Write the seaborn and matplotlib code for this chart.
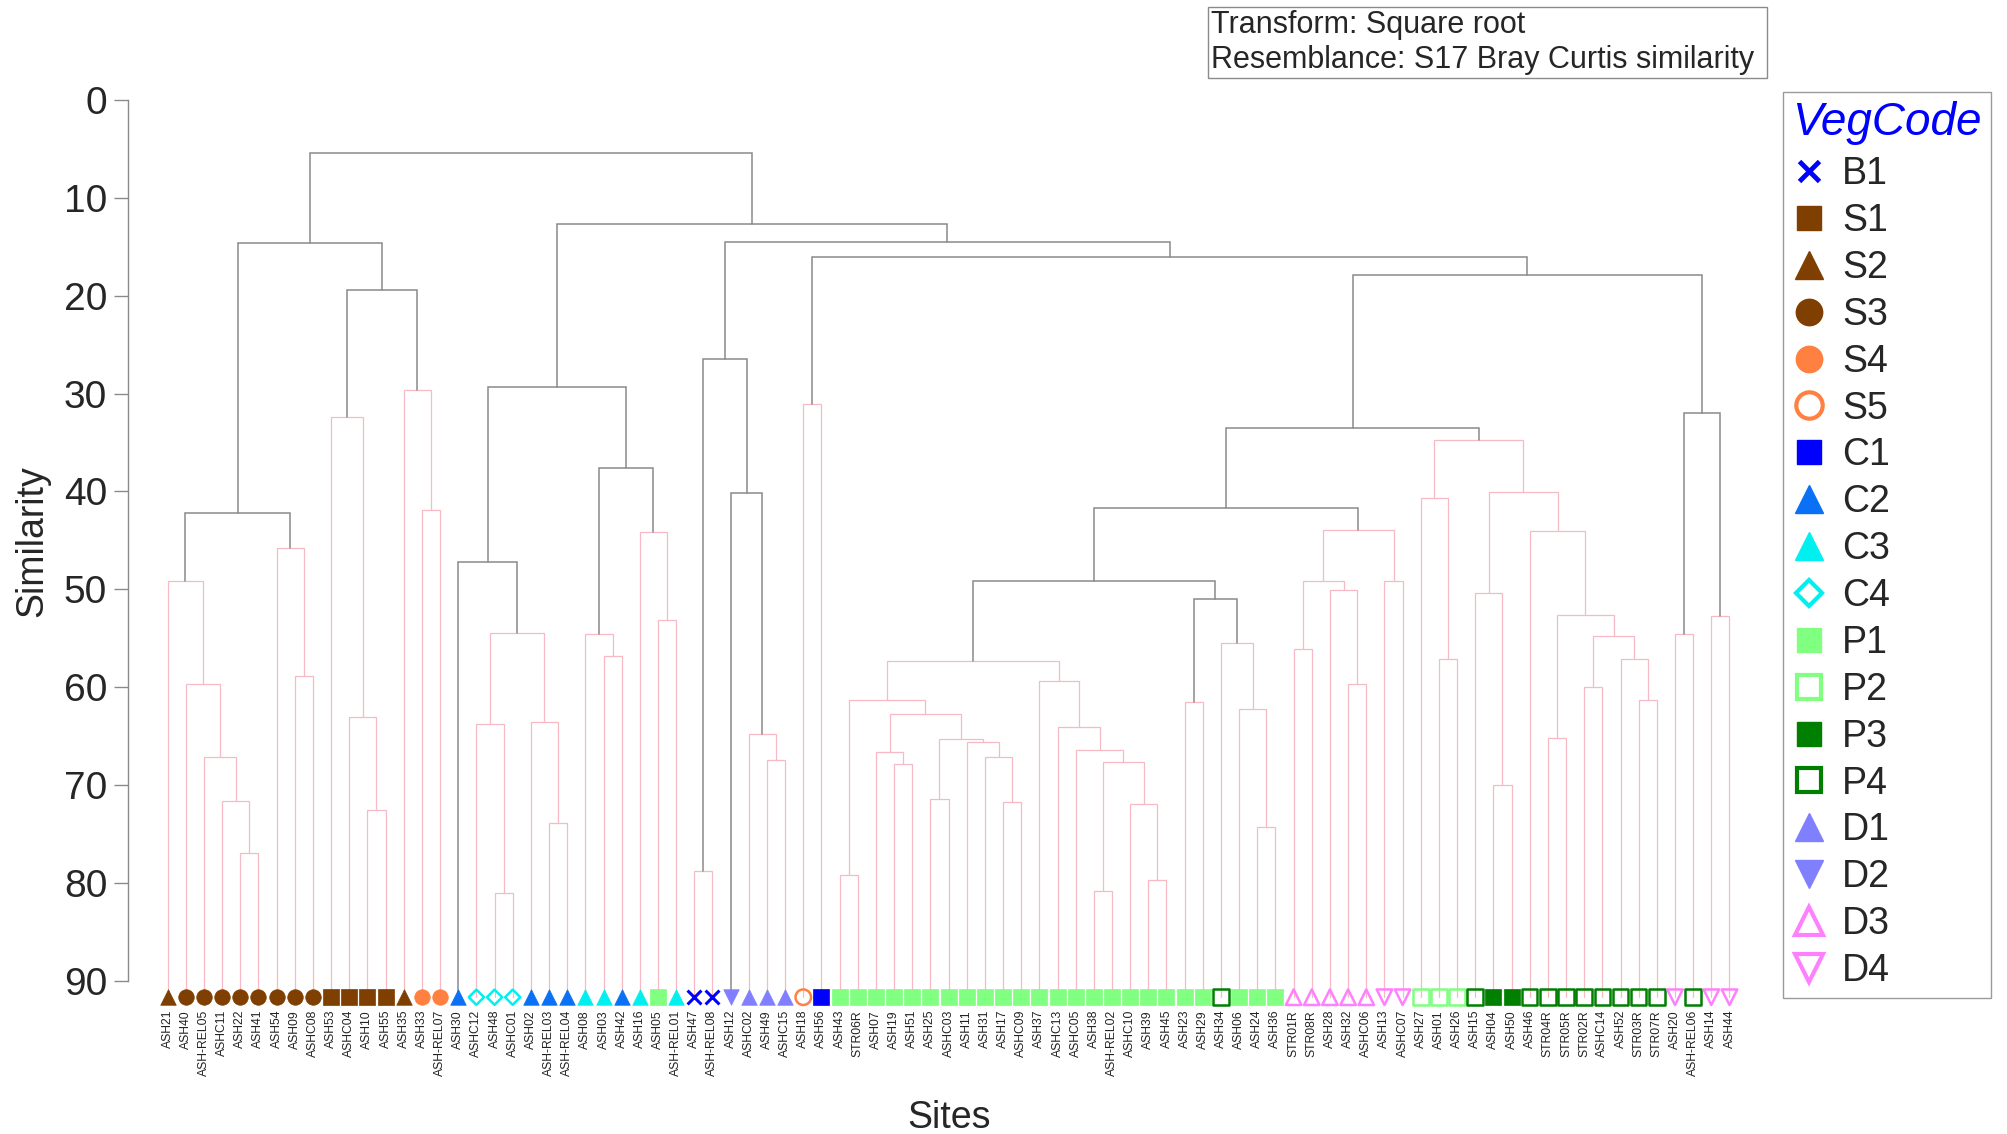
import numpy as np
import pandas as pd
import matplotlib
matplotlib.use("Agg")
import matplotlib.pyplot as plt
import seaborn as sns
from matplotlib.lines import Line2D

# ---------------- data ----------------
sites = ["ASH21", "ASH40", "ASH-REL05", "ASHC11", "ASH22", "ASH41", "ASH54", "ASH09", "ASHC08",
         "ASH53", "ASHC04", "ASH10", "ASH55", "ASH35", "ASH33", "ASH-REL07", "ASH30", "ASHC12",
         "ASH48", "ASHC01", "ASH02", "ASH-REL03", "ASH-REL04", "ASH08", "ASH03", "ASH42", "ASH16",
         "ASH05", "ASH-REL01", "ASH47", "ASH-REL08", "ASH12", "ASHC02", "ASH49", "ASHC15", "ASH18",
         "ASH56", "ASH43", "STR06R", "ASH07", "ASH19", "ASH51", "ASH25", "ASHC03", "ASH11", "ASH31",
         "ASH17", "ASHC09", "ASH37", "ASHC13", "ASHC05", "ASH38", "ASH-REL02", "ASHC10", "ASH39",
         "ASH45", "ASH23", "ASH29", "ASH34", "ASH06", "ASH24", "ASH36", "STR01R", "STR08R", "ASH28",
         "ASH32", "ASHC06", "ASH13", "ASHC07", "ASH27", "ASH01", "ASH26", "ASH15", "ASH04", "ASH50",
         "ASH46", "STR04R", "STR05R", "STR02R", "ASHC14", "ASH52", "STR03R", "STR07R", "ASH20",
         "ASH-REL06", "ASH14", "ASH44"]

veg_codes = ["S2", "S3", "S3", "S3", "S3", "S3", "S3", "S3", "S3",
             "S1", "S1", "S1", "S1", "S2", "S4", "S4", "C2", "C4",
             "C4", "C4", "C2", "C2", "C2", "C3", "C3", "C2", "C3",
             "P1", "C3", "B1", "B1", "D2", "D1", "D1", "D1", "S5",
             "C1", "P1", "P1", "P1", "P1", "P1", "P1", "P1", "P1", "P1",
             "P1", "P1", "P1", "P1", "P1", "P1", "P1", "P1", "P1",
             "P1", "P1", "P1", "P4", "P1", "P1", "P1", "D3", "D3", "D3",
             "D3", "D3", "D4", "D4", "P2", "P2", "P2", "P4", "P3", "P3",
             "P4", "P4", "P4", "P4", "P4", "P4", "P4", "P4", "D4",
             "P4", "D4", "D4"]

# merges: children are leaf numbers (1-based, in the order above) or earlier merges "mK"
merge_pairs = [
    (5, 6), (4, "m0"), (3, "m1"), (2, "m2"), (1, "m3"), (8, 9), (7, "m5"), ("m4", "m6"),
    (12, 13), (11, "m8"), (10, "m9"), (15, 16), (14, "m11"), ("m10", "m12"), ("m7", "m13"),
    (19, 20), (18, "m15"), (22, 23), (21, "m17"), ("m16", "m18"), (17, "m19"),
    (25, 26), (24, "m21"), (28, 29), (27, "m23"), ("m22", "m24"), ("m20", "m25"),
    (30, 31), (34, 35), (33, "m28"), (32, "m29"), ("m27", "m30"), (36, 37),
    (38, 39), (41, 42), (40, "m34"), (43, 44), (47, 48), (46, "m37"), (45, "m38"),
    ("m36", "m39"), ("m35", "m40"), ("m33", "m41"), (52, 53), (55, 56), (54, "m44"),
    ("m43", "m45"), (51, "m46"), (50, "m47"), (49, "m48"), ("m42", "m49"),
    (57, 58), (61, 62), (60, "m52"), (59, "m53"), ("m51", "m54"), ("m50", "m55"),
    (63, 64), (66, 67), (65, "m58"), ("m57", "m59"), (68, 69), ("m60", "m61"), ("m56", "m62"),
    (71, 72), (70, "m64"), (74, 75), (73, "m66"), (77, 78), (79, 80), (82, 83), (81, "m70"),
    ("m69", "m71"), ("m68", "m72"), (76, "m73"), ("m67", "m74"), ("m65", "m75"), ("m63", "m76"),
    (84, 85), (86, 87), ("m78", "m79"), ("m77", "m80"), ("m32", "m81"), ("m31", "m82"),
    ("m26", "m83"), ("m14", "m84"),
]

merge_similarity = [
    76.96, 71.6, 67.1, 59.7, 49.2, 58.9, 45.8, 42.2,
    72.6, 63.1, 32.4, 41.9, 29.6, 19.4, 14.6,
    81.0, 63.8, 73.9, 63.6, 54.5, 47.2,
    56.8, 54.6, 53.1, 44.2, 37.6, 29.3,
    78.8, 67.5, 64.8, 40.2, 26.5, 31.1,
    79.25, 67.9, 66.6, 71.4, 71.7, 67.15, 65.6,
    65.3, 62.8, 61.3, 80.8, 79.7, 72.0,
    67.7, 66.4, 64.1, 59.4, 57.3,
    61.5, 74.3, 62.2, 55.5, 51.05, 49.2,
    56.1, 59.7, 50.1, 49.15, 49.15, 43.9, 41.7,
    57.1, 40.7, 70.0, 50.4, 65.2, 60.0, 61.3, 57.1,
    54.8, 52.6, 44.0, 40.05, 34.7, 33.5,
    54.6, 52.7, 32.0, 17.9, 16.0, 14.5,
    12.65, 5.4,
]

# 1 = significant split (grey), 0 = within a SIMPROF group (pink)
merge_significant = [
    0, 0, 0, 0, 0, 0, 0, 1,
    0, 0, 0, 0, 0, 1, 1,
    0, 0, 0, 0, 0, 1,
    0, 0, 0, 0, 1, 1,
    0, 0, 0, 1, 1, 0,
    0, 0, 0, 0, 0, 0, 0,
    0, 0, 0, 0, 0, 0,
    0, 0, 0, 0, 0,
    0, 0, 0, 0, 1, 1,
    0, 0, 0, 0, 0, 0, 1,
    0, 0, 0, 0, 0, 0, 0, 0,
    0, 0, 0, 0, 0, 1,
    0, 0, 1, 1, 1, 1,
    1, 1,
]

legend_codes = ["B1", "S1", "S2", "S3", "S4", "S5", "C1", "C2", "C3", "C4",
                "P1", "P2", "P3", "P4", "D1", "D2", "D3", "D4"]
code_colors = {"B1": "#0000ff", "S1": "#7f3f00", "S2": "#7f3f00", "S3": "#7f3f00",
               "S4": "#ff8040", "S5": "#ff8040", "C1": "#0000ff", "C2": "#0a70f5",
               "C3": "#00f0f0", "C4": "#00f0f0", "P1": "#80ff80", "P2": "#80ff80",
               "P3": "#007f00", "P4": "#007f00", "D1": "#8080ff", "D2": "#8080ff",
               "D3": "#ff80ff", "D4": "#ff80ff"}
code_markers = {"B1": "x", "S1": "s", "S2": "^", "S3": "o", "S4": "o", "S5": "o",
                "C1": "s", "C2": "^", "C3": "^", "C4": "D", "P1": "s", "P2": "s",
                "P3": "s", "P4": "s", "D1": "^", "D2": "v", "D3": "^", "D4": "v"}
code_open = {"S5", "C4", "P2", "P4", "D3", "D4"}

# ---------------- style ----------------
sns.set_theme(style="white")
plt.rcParams["font.family"] = ["Liberation Sans", "DejaVu Sans"]

GREY = "#8a8a8a"
PINK = "#f7b9c4"
LEAF_LEVEL = 91.7

fig = plt.figure(figsize=(20.07, 11.34), dpi=100)
ax = fig.add_axes([0.0638, 0.1094, 0.8115, 0.8024])

# ---------------- dendrogram ----------------
pos, hgt = {}, {}


def child_xy(c):
    if isinstance(c, str):
        return pos[c], hgt[c]
    return c - 1, LEAF_LEVEL


for k, ((a, b), h, sig) in enumerate(zip(merge_pairs, merge_similarity, merge_significant)):
    xa, ya = child_xy(a)
    xb, yb = child_xy(b)
    col = GREY if sig else PINK
    lw = 1.1 if sig else 0.9
    ax.plot([xa, xa, xb, xb], [ya, h, h, yb], color=col, lw=lw, solid_joinstyle="miter",
            zorder=2 if sig else 1)
    pos[f"m{k}"] = (xa + xb) / 2
    hgt[f"m{k}"] = h

# ---------------- leaf markers ----------------
leaves = pd.DataFrame({"x": np.arange(len(sites)), "y": LEAF_LEVEL,
                       "site": sites, "code": veg_codes})
for code in legend_codes:
    sub = leaves[leaves["code"] == code]
    if sub.empty:
        continue
    col = code_colors[code]
    mk = code_markers[code]
    size = 125 if mk != "D" else 60
    if code in code_open:
        sns.scatterplot(data=sub, x="x", y="y", ax=ax, marker=mk, s=size,
                        facecolor="none", edgecolor=col, linewidth=1.8, zorder=4, legend=False)
    elif mk == "x":
        sns.scatterplot(data=sub, x="x", y="y", ax=ax, marker=mk, s=size * 0.8,
                        color=col, linewidth=2.2, zorder=4, legend=False)
    else:
        sns.scatterplot(data=sub, x="x", y="y", ax=ax, marker=mk, s=size,
                        color=col, edgecolor=col, linewidth=0.5, zorder=4, legend=False)

# ---------------- axes ----------------
ax.set_xlim(-2.18, len(sites) + 0.5)
ax.set_ylim(93, 0)
ax.set_yticks(np.arange(0, 91, 10))
ax.tick_params(axis="y", labelsize=28, length=10, width=1.0, color=GREY, pad=5,
               direction="out", left=True)
ax.set_xticks(np.arange(len(sites)))
ax.set_xticklabels(sites, rotation=90, fontsize=8.7, color="#222222")
ax.tick_params(axis="x", length=0, pad=0)
for s in ["top", "right", "bottom"]:
    ax.spines[s].set_visible(False)
ax.spines["left"].set_color(GREY)
ax.spines["left"].set_linewidth(1.0)
ax.spines["left"].set_bounds(0, 90)

ax.set_ylabel("Similarity", fontsize=27)
ax.yaxis.set_label_coords(-0.059, 0.515)
ax.yaxis.label.set_va("center")
ax.set_xlabel("Sites", fontsize=27)
ax.xaxis.set_label_coords(0.504, -0.119)
ax.xaxis.label.set_va("center")
ax.grid(False)

# ---------------- annotation box ----------------
fig.text(0.6035, 0.991, "Transform: Square root\nResemblance: S17 Bray Curtis similarity ",
         fontsize=22, va="top", ha="left", linespacing=1.2,
         bbox=dict(boxstyle="square,pad=0.12", fc="white", ec="#8a8a8a", lw=1.0))

# ---------------- legend ----------------
handles = []
for code in legend_codes:
    col = code_colors[code]
    mk = code_markers[code]
    ms = {"s": 17, "^": 20, "v": 20, "o": 19, "D": 13, "x": 15}[mk]
    if code in code_open:
        h = Line2D([], [], linestyle="none", marker=mk, markersize=ms,
                   markerfacecolor="none", markeredgecolor=col, markeredgewidth=3)
    elif mk == "x":
        h = Line2D([], [], linestyle="none", marker=mk, markersize=ms,
                   color=col, markeredgewidth=3.5)
    else:
        h = Line2D([], [], linestyle="none", marker=mk, markersize=ms,
                   markerfacecolor=col, markeredgecolor=col)
    handles.append(h)

leg = fig.legend(handles, legend_codes, loc="upper left",
                 bbox_to_anchor=(0.8884, 0.9189), borderaxespad=0, fontsize=27,
                 frameon=True, fancybox=False, edgecolor="#9a9a9a", framealpha=1,
                 labelspacing=0.29, handlelength=0.9, handletextpad=0.42,
                 borderpad=0.25, title="VegCode", alignment="left")
leg.get_title().set_fontsize(33)
leg.get_title().set_fontstyle("italic")
leg.get_title().set_color("#0000ff")
leg.get_frame().set_linewidth(1.0)

fig.savefig("out.png", dpi=100)
